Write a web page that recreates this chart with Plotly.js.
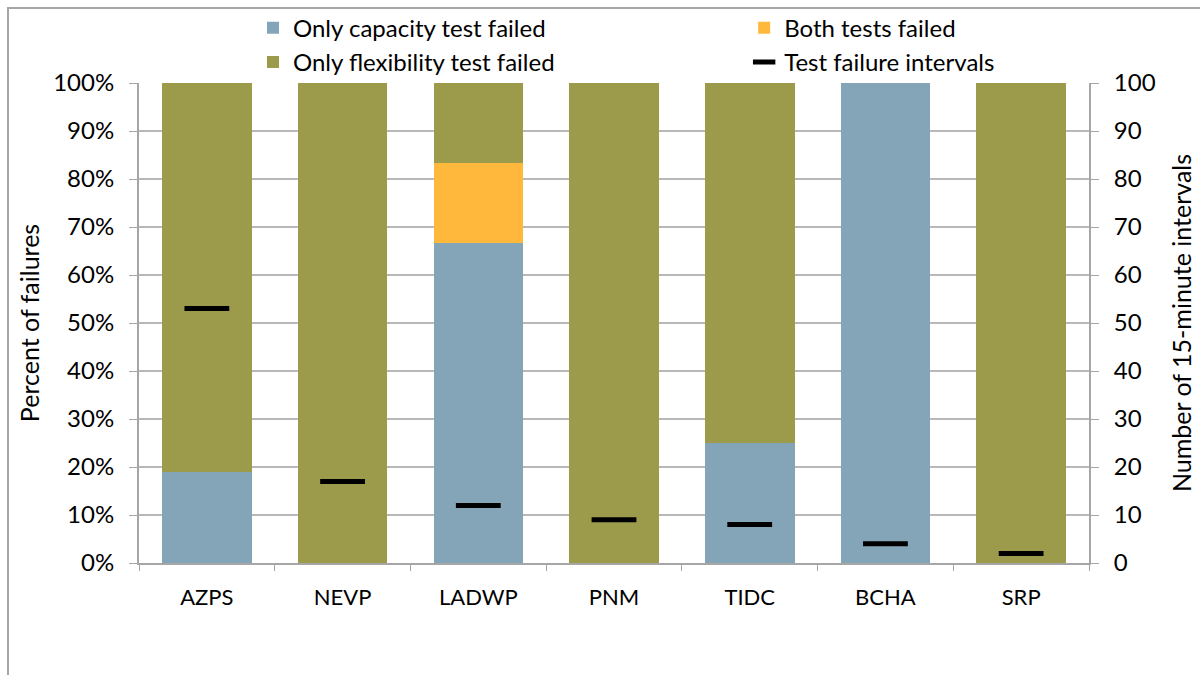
<!DOCTYPE html>
<html>
<head>
<meta charset="utf-8">
<script src="https://cdn.plot.ly/plotly-3.0.1.min.js"></script>
<style>
  html, body { margin: 0; padding: 0; background: #fff; }
  #chart { width: 1200px; height: 675px; }
</style>
</head>
<body>
<div id="chart"></div>
<script>
// ---- Data ----
const categories = ["AZPS", "NEVP", "LADWP", "PNM", "TIDC", "BCHA", "SRP"];
const onlyCapacity = [18.9, 0, 66.7, 0, 25, 100, 0];      // % of failures
const bothFailed = [0, 0, 16.7, 0, 0, 0, 0];               // % of failures
const onlyFlexibility = [81.1, 100, 16.6, 100, 75, 0, 100]; // % of failures
const failureIntervals = [53, 17, 12, 9, 8, 4, 2];        // number of 15-minute intervals

const seriesNames = [
  "Only capacity test failed",
  "Both tests failed",
  "Only flexibility test failed",
  "Test failure intervals"
];

// ---- Styles ----
const FONT = "Lato, 'Noto Sans', sans-serif";
const GRID = "#b8b8b8";
const AXIS = "#a6a6a6";

const traces = [
  { type: "bar", name: seriesNames[0], x: categories, y: onlyCapacity, legend: "legend",
    marker: { color: "#84a5b8" }, hoverinfo: "x+y" },
  { type: "bar", name: seriesNames[1], x: categories, y: bothFailed, legend: "legend2",
    marker: { color: "#ffb83b" }, hoverinfo: "x+y" },
  { type: "bar", name: seriesNames[2], x: categories, y: onlyFlexibility, legend: "legend",
    marker: { color: "#9b9b4b" }, hoverinfo: "x+y" },
  { type: "scatter", mode: "markers", name: seriesNames[3], x: categories, y: failureIntervals,
    yaxis: "y2", cliponaxis: false, legend: "legend2",
    marker: { symbol: "line-ew", size: 32, color: "#000", line: { color: "#000", width: 5 } } }
];

const legendCommon = {
  orientation: "v", xanchor: "left", y: 1.161, yanchor: "top",
  bgcolor: "rgba(0,0,0,0)", borderwidth: 0,
  font: { family: FONT, size: 24, color: "#000" },
  traceorder: "normal", itemclick: false, itemdoubleclick: false
};

const layout = {
  width: 1200, height: 675,
  margin: { l: 139, r: 111, t: 83, b: 112, autoexpand: false },
  paper_bgcolor: "#fff", plot_bgcolor: "#fff",
  font: { family: FONT, size: 24, color: "#000" },
  barmode: "stack",
  bargap: 0.34,
  showlegend: true,
  legend: Object.assign({}, legendCommon, { x: 0.12 }),
  legend2: Object.assign({}, legendCommon, { x: 0.637 }),
  xaxis: {
    type: "category", tickson: "boundaries", ticks: "outside", ticklen: 6, tickcolor: AXIS,
    showline: true, linecolor: AXIS, linewidth: 2, showgrid: false, zeroline: false,
    tickfont: { family: FONT, size: 22 }, ticklabelstandoff: 14, fixedrange: true
  },
  yaxis: {
    range: [0, 100], dtick: 10, ticksuffix: "%", ticks: "outside", ticklen: 8, tickcolor: AXIS,
    showline: true, linecolor: AXIS, linewidth: 2, showgrid: true, gridcolor: GRID, gridwidth: 2,
    zeroline: false, tickfont: { family: FONT, size: 24 }, ticklabelstandoff: 10,
    title: { text: "Percent of failures", font: { family: FONT, size: 25 }, standoff: 6 },
    automargin: false, fixedrange: true
  },
  yaxis2: {
    overlaying: "y", side: "right", range: [0, 100], dtick: 10, ticks: "outside", ticklen: 8,
    tickcolor: AXIS, showline: true, linecolor: AXIS, linewidth: 2, showgrid: false, zeroline: false,
    tickfont: { family: FONT, size: 24 }, ticklabelstandoff: 10,
    title: { text: "Number of 15-minute intervals", font: { family: FONT, size: 25 }, standoff: 19 },
    automargin: false, fixedrange: true
  },
  shapes: [
    { type: "path", xref: "paper", yref: "paper",
      path: "M -0.1379 -0.4 L -0.1379 1.1563 L 1.3 1.1563",
      line: { color: "#a6a6a6", width: 2 }, layer: "below" }
  ]
};

Plotly.newPlot("chart", traces, layout, { displayModeBar: false, staticPlot: true });
</script>
</body>
</html>
